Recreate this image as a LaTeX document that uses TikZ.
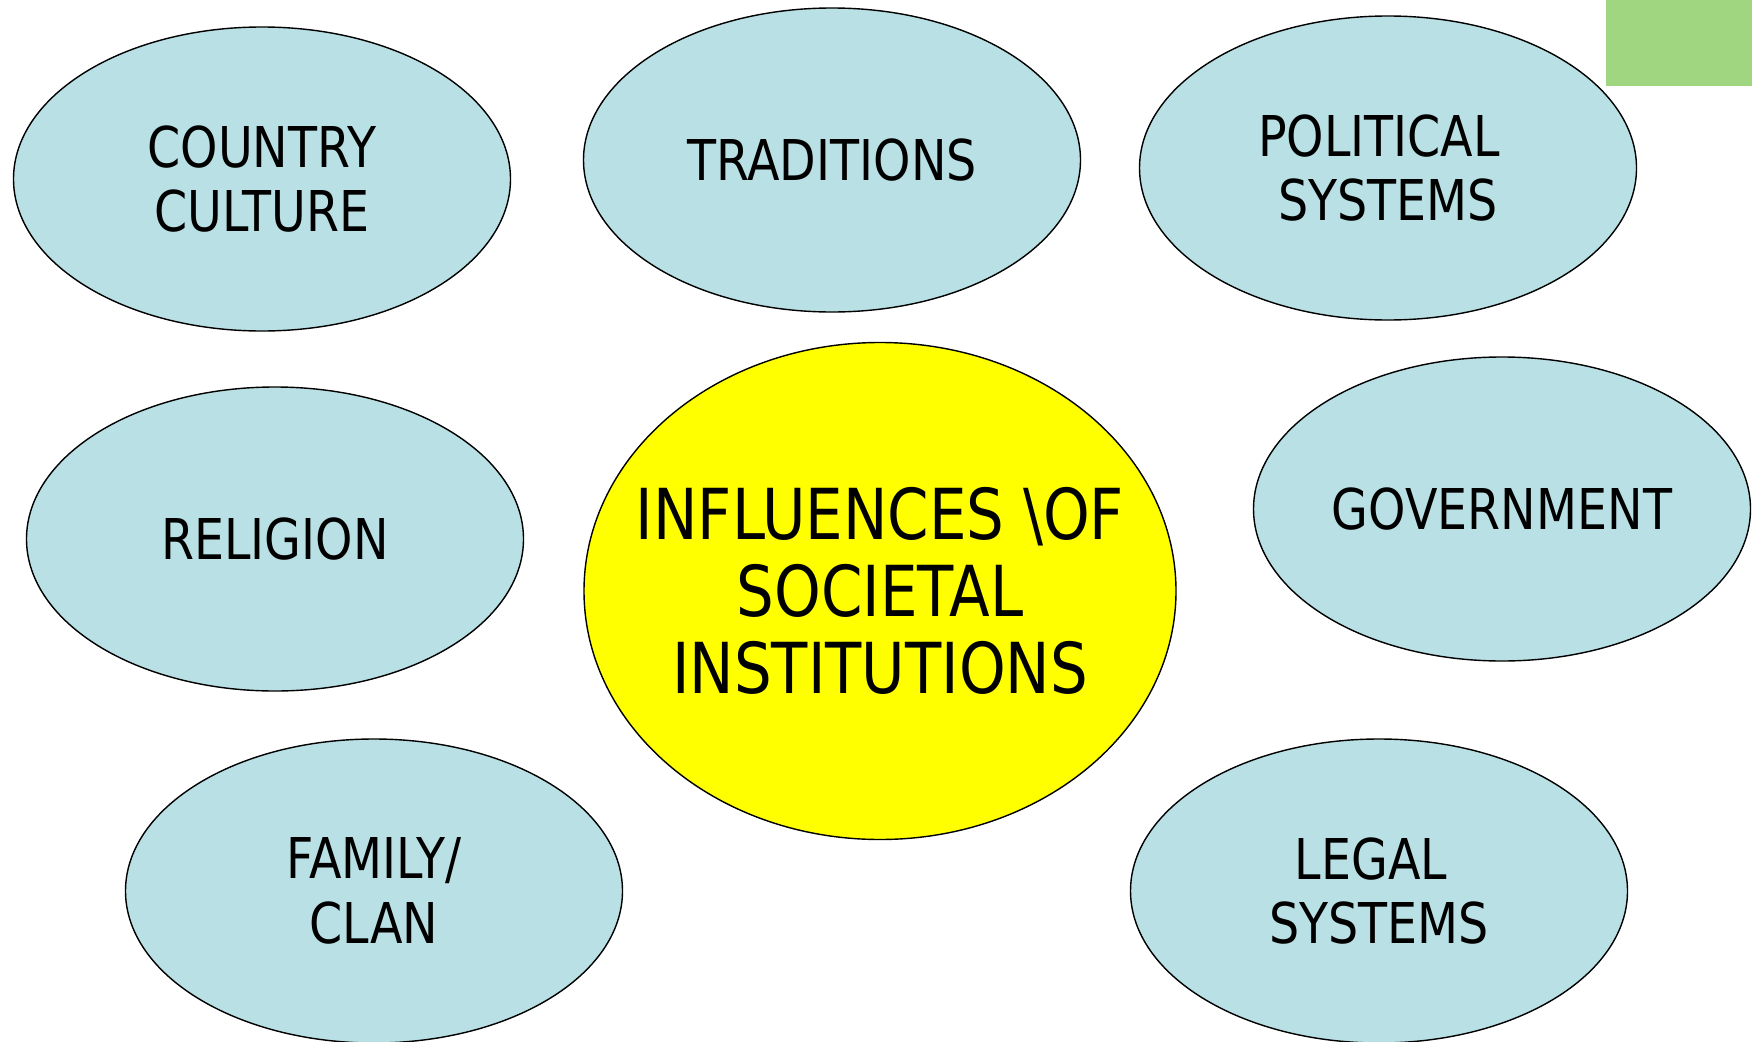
\documentclass[tikz,border=0pt]{standalone}
\usepackage{fontspec}
\setmainfont[FakeStretch=0.845]{DejaVu Sans}
\usetikzlibrary{shapes.geometric}
\definecolor{paleblue}{HTML}{B9E0E4}
\definecolor{hotyellow}{HTML}{FFFF00}
\definecolor{leafgreen}{HTML}{A0D680}
\tikzset{line width=.8pt,
  every node/.style={align=center},
  influence/.style={ellipse,draw=black,fill=paleblue,inner sep=0pt,
    minimum width=4.97cm,minimum height=3.04cm,
    font=\fontsize{16}{18.3}\selectfont},
  hub/.style={ellipse,draw=black,fill=hotyellow,inner xsep=-1cm,inner ysep=0pt,
    minimum width=5.92cm,minimum height=4.97cm,
    font=\fontsize{20}{21.8}\selectfont}}

\begin{document}
\begin{tikzpicture}
\path[use as bounding box] (0,0) rectangle (17.52,10.41);
\fill[leafgreen] (16.06,9.55) rectangle (17.52,10.41);
% outer ring of influences
\node[influence] (culture) at (2.62,8.62) {COUNTRY\\CULTURE};
\node[influence] (traditions) at (8.32,8.81) {TRADITIONS};
\node[influence] (political) at (13.88,8.73) {POLITICAL\hspace*{.18cm}\\SYSTEMS};
\node[influence] (religion) at (2.75,5.02) {RELIGION};
\node[influence] (government) at (15.02,5.32) {GOVERNMENT};
\node[influence] (family) at (3.74,1.50) {FAMILY/\\CLAN};
\node[influence] (legal) at (13.79,1.50) {LEGAL\hspace*{.16cm}\\SYSTEMS};
% centre
\node[hub] (societal) at (8.80,4.50) {INFLUENCES \textbackslash OF\\SOCIETAL\\INSTITUTIONS};
\end{tikzpicture}
\end{document}
